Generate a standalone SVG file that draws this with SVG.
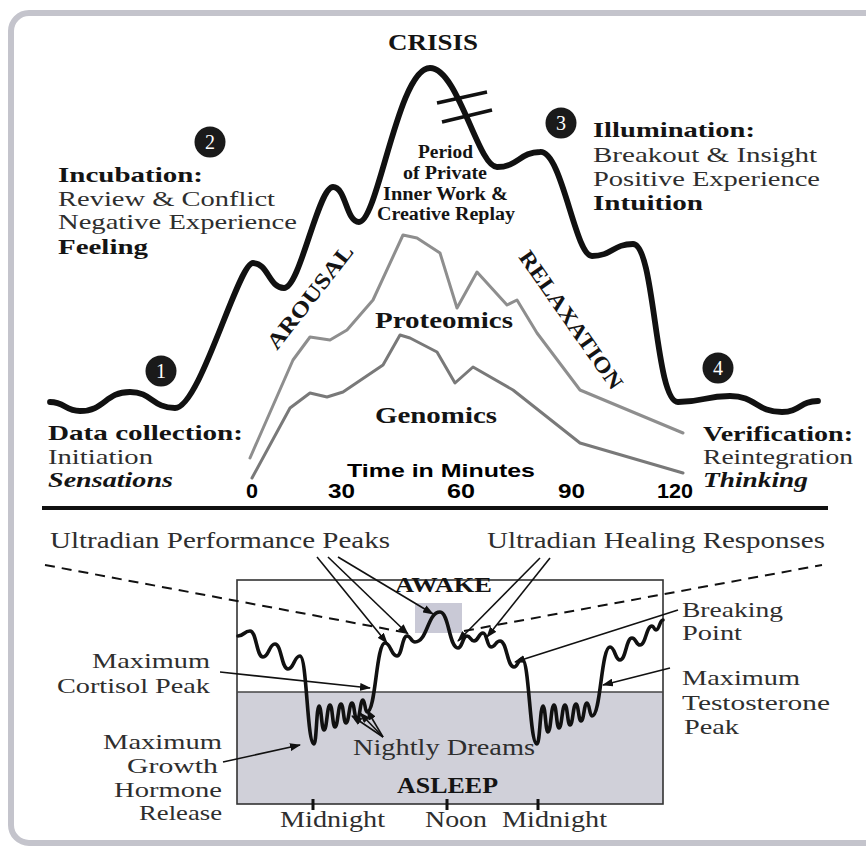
<svg xmlns="http://www.w3.org/2000/svg" width="866" height="850" viewBox="0 0 866 850">
<defs>
<style>
.b{font-family:"Liberation Serif",serif;font-weight:bold;fill:#141414}
.r{font-family:"Liberation Serif",serif;fill:#2e2e2e}
.bi{font-family:"Liberation Serif",serif;font-weight:bold;font-style:italic;fill:#141414}
.s{font-family:"Liberation Sans",sans-serif;font-weight:bold;fill:#000}
.st{font-size:22px}
.lo{font-size:22px}
.num{font-family:"Liberation Serif",serif;fill:#fff;font-size:20px;text-anchor:middle}
.big{fill:none;stroke:#111;stroke-width:5.8;stroke-linecap:round;stroke-linejoin:round}
.omics{fill:none;stroke-width:3;stroke-linejoin:round;stroke-linecap:round}
.arr{fill:none;stroke:#111;stroke-width:1.6;marker-end:url(#ah)}
.dash{fill:none;stroke:#111;stroke-width:2;stroke-dasharray:10 7}
.badge{fill:#1a1a1a}
</style>
<marker id="ah" markerUnits="userSpaceOnUse" markerWidth="11" markerHeight="8" refX="10" refY="4" orient="auto">
<path d="M0,0 L11,4 L0,8 z" fill="#111"/>
</marker>
</defs>
<rect x="0" y="0" width="866" height="850" fill="#fff"/>
<rect id="frame" x="11" y="13" width="900" height="830" rx="18" fill="none" stroke="#c4c4cc" stroke-width="6"/>

<!-- Upper chart -->
<g id="creative-curve">
<path class="big" d="M50 402 C65 402,65 411,80 411 C105 411,105 392,130 392 C152 392,152 408,175 408 C200 408,238 263,253 263 C268 263,269 288,284 288 C300 288,318 187,333 187 C346 187,346 222,359 222 C378 222,398 68,430 68 C458 68,478 167,497 167 C518 167,520 152,540 152 C562 150,575 256,592 256 C612 256,613 244,633 244 C655 244,655 402,678 402 C704 402,704 396,730 396 C756 396,756 412,782 412 C800 412,800 401,818 401"/>
<line x1="437" y1="103" x2="487" y2="92" stroke="#111" stroke-width="3.5"/>
<line x1="442" y1="122" x2="492" y2="110" stroke="#111" stroke-width="3.5"/>
</g>
<g id="proteomics-line"><polyline class="omics" stroke="#8e8e8e" points="250,458 293,360 310,337 330,340 347,330 373,300 403,235 417,238 440,253 457,308 477,272 507,305 517,300 537,333 580,390 683,433"/></g>
<g id="genomics-line"><polyline class="omics" stroke="#797979" points="252,478 290,408 310,393 327,397 343,392 383,365 400,335 410,338 437,352 455,383 473,367 513,390 580,443 683,473"/></g>

<g id="crisis"><text class="b" x="388" y="50" font-size="24" textLength="90" lengthAdjust="spacingAndGlyphs">CRISIS</text></g>

<g id="stage1">
<circle class="badge" cx="161" cy="371" r="15.5"/><text class="num" x="161" y="378">1</text>
<text class="b st" x="48" y="440" textLength="195" lengthAdjust="spacingAndGlyphs">Data collection:</text>
<text class="r st" x="48" y="464" textLength="105" lengthAdjust="spacingAndGlyphs">Initiation</text>
<text class="bi st" x="48" y="487" textLength="125" lengthAdjust="spacingAndGlyphs">Sensations</text>
</g>
<g id="stage2">
<circle class="badge" cx="210" cy="142" r="15.5"/><text class="num" x="210" y="149">2</text>
<text class="b st" x="58" y="182" textLength="145" lengthAdjust="spacingAndGlyphs">Incubation:</text>
<text class="r st" x="58" y="206" textLength="217" lengthAdjust="spacingAndGlyphs">Review &amp; Conflict</text>
<text class="r st" x="58" y="229" textLength="239" lengthAdjust="spacingAndGlyphs">Negative Experience</text>
<text class="b st" x="58" y="254" textLength="90" lengthAdjust="spacingAndGlyphs">Feeling</text>
</g>
<g id="stage3">
<circle class="badge" cx="561" cy="123" r="15.5"/><text class="num" x="561" y="130">3</text>
<text class="b st" x="593" y="137" textLength="162" lengthAdjust="spacingAndGlyphs">Illumination:</text>
<text class="r st" x="593" y="162" textLength="224" lengthAdjust="spacingAndGlyphs">Breakout &amp; Insight</text>
<text class="r st" x="593" y="186" textLength="227" lengthAdjust="spacingAndGlyphs">Positive Experience</text>
<text class="b st" x="593" y="210" textLength="110" lengthAdjust="spacingAndGlyphs">Intuition</text>
</g>
<g id="stage4">
<circle class="badge" cx="718" cy="368" r="15.5"/><text class="num" x="718" y="375">4</text>
<text class="b st" x="703" y="441" textLength="150" lengthAdjust="spacingAndGlyphs">Verification:</text>
<text class="r st" x="703" y="464" textLength="150" lengthAdjust="spacingAndGlyphs">Reintegration</text>
<text class="bi st" x="703" y="487" textLength="105" lengthAdjust="spacingAndGlyphs">Thinking</text>
</g>
<g id="period">
<text class="b" x="418" y="158" font-size="18" textLength="55" lengthAdjust="spacingAndGlyphs">Period</text>
<text class="b" x="403" y="179" font-size="18" textLength="84" lengthAdjust="spacingAndGlyphs">of Private</text>
<text class="b" x="383" y="200" font-size="18" textLength="125" lengthAdjust="spacingAndGlyphs">Inner Work &amp;</text>
<text class="b" x="377" y="220" font-size="18" textLength="138" lengthAdjust="spacingAndGlyphs">Creative Replay</text>
</g>
<g id="arousal"><text class="b" transform="translate(277,351) rotate(-52)" font-size="22" textLength="126" lengthAdjust="spacingAndGlyphs">AROUSAL</text></g>
<g id="relaxation"><text class="b" transform="translate(518,257) rotate(55)" font-size="22" textLength="164" lengthAdjust="spacingAndGlyphs">RELAXATION</text></g>
<g id="proteomics"><text class="b" x="375" y="328" font-size="24" textLength="138" lengthAdjust="spacingAndGlyphs">Proteomics</text></g>
<g id="genomics"><text class="b" x="375" y="423" font-size="24" textLength="122" lengthAdjust="spacingAndGlyphs">Genomics</text></g>
<g id="time-axis">
<text class="s" x="347" y="477" font-size="19" textLength="188" lengthAdjust="spacingAndGlyphs">Time in Minutes</text>
<text class="s" x="246" y="498" font-size="20" textLength="12" lengthAdjust="spacingAndGlyphs">0</text>
<text class="s" x="328" y="498" font-size="20" textLength="27" lengthAdjust="spacingAndGlyphs">30</text>
<text class="s" x="447" y="498" font-size="20" textLength="28" lengthAdjust="spacingAndGlyphs">60</text>
<text class="s" x="558" y="498" font-size="20" textLength="27" lengthAdjust="spacingAndGlyphs">90</text>
<text class="s" x="657" y="498" font-size="20" textLength="36" lengthAdjust="spacingAndGlyphs">120</text>
</g>

<line id="divider" x1="42" y1="508" x2="828" y2="508" stroke="#111" stroke-width="4"/>

<!-- Lower chart -->
<g id="day-box">
<rect x="237" y="580" width="426" height="224" fill="#fff"/>
<rect x="237" y="692" width="426" height="112" fill="#d0d0d9"/>
<rect x="415" y="603" width="47" height="30" fill="#c9c9d6"/>
<rect x="237" y="580" width="426" height="224" fill="none" stroke="#333" stroke-width="1.6"/>
<line x1="237" y1="692" x2="663" y2="692" stroke="#444" stroke-width="1.5"/>
<line x1="313" y1="799" x2="313" y2="810" stroke="#111" stroke-width="3"/>
<line x1="447" y1="799" x2="447" y2="810" stroke="#111" stroke-width="3"/>
<line x1="538" y1="799" x2="538" y2="810" stroke="#111" stroke-width="3"/>
</g>
<g id="awake"><text class="b" x="395" y="592" font-size="22" textLength="97" lengthAdjust="spacingAndGlyphs">AWAKE</text></g>
<g id="asleep"><text class="b" x="397" y="793" font-size="23" textLength="101" lengthAdjust="spacingAndGlyphs">ASLEEP</text></g>
<g id="rhythm-curve">
<path fill="none" stroke="#111" stroke-width="3.6" stroke-linejoin="round" stroke-linecap="round" d="M238 636 C244 636,244 631,250 631 C256.5 631,256.5 657,263 657 C269 657,269 644,275 644 C281.5 644,281.5 669,288 669 C294 669,294 656,300 656 C307 656,307 744,314 744 C316.5 744,316.5 706,319 706 C321.5 706,321.5 730,324 730 C327 730,327 705,330 705 C332.5 705,332.5 727,335 727 C338 727,338 704,341 704 C343.5 704,343.5 723,346 723 C349 723,349 703,352 703 C354.5 703,354.5 720,357 720 C360 720,360 700,363 700 C365 700,365 712,367 712 C376 712,376 643,385 643 C391 643,391 656,397 656 C402 656,402 636,407 636 C411 636,411 642,415 642 C427.5 642,427.5 612,440 612 C449 612,449 648,458 648 C462.5 648,462.5 636,467 636 C470.5 636,470.5 641,474 641 C478.5 641,478.5 633,483 633 C487 633,487 647,491 647 C495.5 647,495.5 641,500 641 C507 641,507 667,514 667 C518 667,518 659,522 659 C529.5 659,529.5 744,537 744 C540 744,540 706,543 706 C545.5 706,545.5 732,548 732 C551 732,551 705,554 705 C556.5 705,556.5 728,559 728 C562 728,562 705,565 705 C567.5 705,567.5 725,570 725 C573 725,573 704,576 704 C578.5 704,578.5 721,581 721 C584 721,584 703,587 703 C589.5 703,589.5 716,592 716 C601 716,601 647,610 647 C615 647,615 660,620 660 C626 660,626 638,632 638 C636 638,636 645,640 645 C646 645,646 626,652 626 C654 626,654 630,656 630 C659.5 630,659.5 620,663 620"/>
</g>

<g id="label-performance"><text class="r" x="50" y="548" font-size="24" textLength="340" lengthAdjust="spacingAndGlyphs">Ultradian Performance Peaks</text></g>
<g id="label-healing"><text class="r" x="487" y="548" font-size="24" textLength="338" lengthAdjust="spacingAndGlyphs">Ultradian Healing Responses</text></g>
<g id="label-breaking">
<text class="r lo" x="682" y="617" textLength="101" lengthAdjust="spacingAndGlyphs">Breaking</text>
<text class="r lo" x="682" y="640" textLength="60" lengthAdjust="spacingAndGlyphs">Point</text>
</g>
<g id="label-testosterone">
<text class="r lo" x="682" y="685" textLength="118" lengthAdjust="spacingAndGlyphs">Maximum</text>
<text class="r lo" x="682" y="710" textLength="148" lengthAdjust="spacingAndGlyphs">Testosterone</text>
<text class="r lo" x="684" y="734" textLength="55" lengthAdjust="spacingAndGlyphs">Peak</text>
</g>
<g id="label-cortisol">
<text class="r lo" x="92" y="668" textLength="118" lengthAdjust="spacingAndGlyphs">Maximum</text>
<text class="r lo" x="57" y="693" textLength="153" lengthAdjust="spacingAndGlyphs">Cortisol Peak</text>
</g>
<g id="label-growth">
<text class="r lo" x="103" y="749" textLength="119" lengthAdjust="spacingAndGlyphs">Maximum</text>
<text class="r lo" x="127" y="773" textLength="91" lengthAdjust="spacingAndGlyphs">Growth</text>
<text class="r lo" x="114" y="797" textLength="108" lengthAdjust="spacingAndGlyphs">Hormone</text>
<text class="r lo" x="139" y="820" textLength="83" lengthAdjust="spacingAndGlyphs">Release</text>
</g>
<g id="label-dreams"><text class="r" x="353" y="755" font-size="24" textLength="182" lengthAdjust="spacingAndGlyphs">Nightly Dreams</text></g>
<g id="time-labels">
<text class="r" x="280" y="827" font-size="24" textLength="105" lengthAdjust="spacingAndGlyphs">Midnight</text>
<text class="r" x="425" y="827" font-size="24" textLength="62" lengthAdjust="spacingAndGlyphs">Noon</text>
<text class="r" x="502" y="827" font-size="24" textLength="105" lengthAdjust="spacingAndGlyphs">Midnight</text>
</g>

<g id="connectors">
<line class="dash" x1="45" y1="565" x2="408" y2="633"/>
<line class="dash" x1="464" y1="631" x2="822" y2="565"/>
<line class="arr" x1="317" y1="557" x2="387" y2="643"/>
<line class="arr" x1="328" y1="557" x2="408" y2="634"/>
<line class="arr" x1="338" y1="557" x2="433" y2="614"/>
<line class="arr" x1="540" y1="558" x2="458" y2="641"/>
<line class="arr" x1="550" y1="558" x2="487" y2="637"/>
<line class="arr" x1="678" y1="610" x2="515" y2="662"/>
<line class="arr" x1="670" y1="668" x2="603" y2="685"/>
<line class="arr" x1="220" y1="672" x2="370" y2="688"/>
<line class="arr" x1="223" y1="762" x2="300" y2="745"/>
<line class="arr" x1="383" y1="737" x2="352" y2="716"/>
<line class="arr" x1="383" y1="737" x2="360" y2="713"/>
<line class="arr" x1="383" y1="737" x2="367" y2="710"/>
</g>
</svg>
